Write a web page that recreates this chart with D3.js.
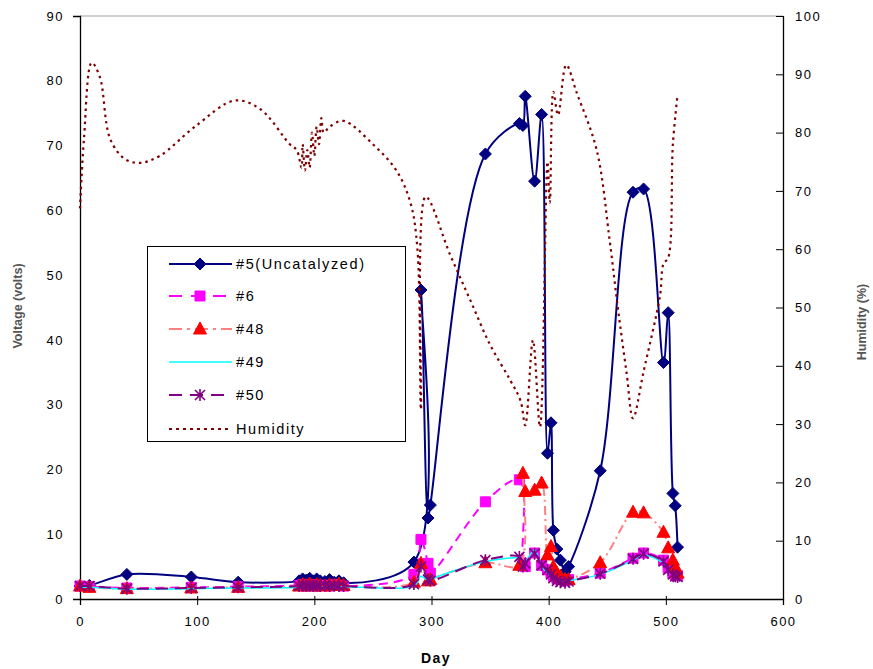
<!DOCTYPE html>
<html><head><meta charset="utf-8">
<script src="https://cdn.jsdelivr.net/npm/d3@7"></script>
<style>
html,body{margin:0;padding:0;background:#fff;}
svg{display:block;font-family:"Liberation Sans",Arial,sans-serif;}
</style></head>
<body><svg id="c" width="873" height="669"></svg>
<script>
const days = [0, 8, 40, 95, 135, 187, 190, 193, 196, 199, 202, 205, 209, 213, 217, 221, 225, 285, 291, 297, 299, 346, 375, 378, 380, 388, 394, 399, 402, 404, 407, 410, 414, 417, 444, 472, 481, 498, 502, 506, 508, 510];
const v5  = [2.0, 2.1, 3.8, 3.4, 2.6, 2.8, 3.1, 2.9, 3.2, 2.8, 3.1, 2.8, 2.7, 3.0, 2.6, 2.8, 2.5, 5.7, 47.7, 12.5, 14.5, 68.7, 73.4, 73.1, 77.6, 64.5, 74.8, 22.5, 27.2, 10.6, 7.7, 6.0, 4.2, 5.0, 19.8, 62.8, 63.3, 36.5, 44.2, 16.3, 14.4, 8.0];
const v6  = [2.0, 1.9, 1.7, 1.8, 1.9, 2.1, 2.2, 2.0, 2.1, 2.2, 2.0, 2.1, 2.1, 2.0, 2.2, 2.1, 2.0, 3.8, 9.2, 5.5, 4.0, 15.0, 18.4, 5.5, 5.0, 7.1, 5.2, 4.5, 4.0, 3.5, 3.2, 3.0, 2.8, 3.0, 4.0, 6.3, 7.1, 6.0, 4.8, 4.0, 3.8, 3.6];
const v48 = [2.0, 1.8, 1.6, 1.7, 1.8, 2.0, 2.2, 2.1, 2.3, 2.0, 2.2, 2.1, 2.0, 2.2, 2.1, 2.3, 2.1, 2.6, 5.5, 2.8, 3.0, 5.6, 5.2, 19.4, 16.6, 16.8, 17.9, 6.8, 8.1, 5.0, 4.0, 3.5, 3.0, 3.0, 5.6, 13.4, 13.3, 10.3, 7.9, 6.0, 5.0, 4.0];
const v49 = [1.8, 1.8, 1.5, 1.6, 1.7, 1.8, 1.9, 1.8, 1.9, 1.8, 1.9, 1.8, 1.9, 1.8, 1.9, 1.8, 1.9, 2.0, 3.5, 2.8, 3.0, 5.8, 6.3, 6.0, 5.8, 7.6, 5.0, 4.0, 3.5, 3.2, 3.0, 2.8, 2.6, 2.8, 3.8, 6.0, 6.8, 5.5, 4.5, 3.8, 3.6, 3.5];
const v50 = [2.0, 2.0, 1.6, 1.7, 1.8, 2.0, 2.1, 2.0, 2.1, 2.0, 2.1, 2.0, 2.1, 2.0, 2.1, 2.0, 2.0, 2.3, 5.0, 3.0, 2.8, 6.0, 6.5, 5.0, 5.5, 7.0, 5.2, 4.5, 3.8, 3.2, 2.8, 2.6, 2.5, 2.7, 3.9, 6.2, 7.0, 5.8, 4.5, 3.8, 3.5, 3.4];
const humDays  = [0, 3.4, 10, 17, 25.6, 38, 51, 68, 98, 132, 154, 179, 185, 189, 190, 192, 194, 196, 198, 200, 202, 204, 206, 208, 213, 225, 250, 270, 282, 288, 291, 295, 316, 333, 350, 367, 376, 380, 386.6, 392.6, 399, 401, 404, 408, 415, 424, 441, 452, 459, 466.5, 472, 481, 495, 498, 502, 506, 510];
const humidity = [67, 79, 92, 89.5, 79, 75.5, 74.8, 76, 81, 85.5, 84, 78, 77, 74, 78, 73.5, 77, 74, 80, 76, 81, 78, 82.5, 80, 81, 82, 78, 73.5, 68, 60, 32.5, 69, 59, 51.3, 43.6, 37.6, 34, 29.8, 44.4, 29.5, 75, 68, 87, 83, 91.6, 86.8, 77, 61.6, 50, 38.8, 31, 39, 52, 57.5, 58.5, 78, 86.5];
const xTicks = [0, 100, 200, 300, 400, 500, 600];
const yTicks = [0, 10, 20, 30, 40, 50, 60, 70, 80, 90];
const hTicks = [0, 10, 20, 30, 40, 50, 60, 70, 80, 90, 100];
const seriesNames = ["#5(Uncatalyzed)", "#6", "#48", "#49", "#50", "Humidity"];

const svg = d3.select("#c");
const L = 80, R = 783, T = 16, B = 599;
const x = d3.scaleLinear().domain([0, 600]).range([L, R]);
const y = d3.scaleLinear().domain([0, 90]).range([B, T]);
const yh = d3.scaleLinear().domain([0, 100]).range([B, T]);

const curve = d3.curveCatmullRom.alpha(0.5);

// top border
svg.append("line").attr("x1", L).attr("x2", R).attr("y1", T).attr("y2", T).attr("stroke", "#a0a0a0").attr("stroke-width", 1);

// axes
const tickFont = g => g.selectAll("text").attr("font-family", "Liberation Sans, Arial, sans-serif").attr("font-size", 13).attr("fill", "#000").attr("letter-spacing", "1.5px");
const gx = svg.append("g").attr("transform", `translate(0,${B})`).call(d3.axisBottom(x).tickValues(xTicks).tickSize(6).tickPadding(12).tickFormat(d3.format("d")));
gx.call(tickFont);
const gy = svg.append("g").attr("transform", `translate(${L},0)`).call(d3.axisLeft(y).tickValues(yTicks).tickSize(7).tickPadding(9).tickFormat(d3.format("d")));
gy.call(tickFont);
const gh = svg.append("g").attr("transform", `translate(${R},0)`).call(d3.axisRight(yh).tickValues(hTicks).tickSize(0).tickPadding(12).tickFormat(d3.format("d")));
gh.call(tickFont);
gh.selectAll(".tick").append("line").attr("x1", -7).attr("x2", 1).attr("stroke", "#000");
gx.selectAll(".tick line").attr("y1", -3);
gy.selectAll(".tick line").attr("x2", 1);
[gx, gy, gh].forEach(g => { g.select(".domain").attr("stroke", "#000").attr("stroke-width", 1.3); g.selectAll(".tick line").attr("stroke", "#000"); });

// axis titles
svg.append("text").attr("transform", `translate(22,306) rotate(-90)`).attr("text-anchor", "middle")
  .attr("font-size", 12.5).attr("font-weight", "bold").attr("fill", "#555").text("Voltage (volts)");
svg.append("text").attr("transform", `translate(866,322) rotate(-90)`).attr("text-anchor", "middle")
  .attr("font-size", 12.5).attr("font-weight", "bold").attr("fill", "#555").text("Humidity (%)");
svg.append("text").attr("x", 436).attr("y", 663).attr("text-anchor", "middle").attr("font-size", 14).attr("font-weight", "bold")
  .attr("letter-spacing", "1.5px").text("Day");

const plot = svg.append("g");

function markerPath(type, cx, cy) {
  if (type === "diamond") return `M${cx},${cy - 6}L${cx + 6},${cy}L${cx},${cy + 6}L${cx - 6},${cy}Z`;
  if (type === "square") return `M${cx - 5},${cy - 5}h10v10h-10Z`;
  if (type === "triangle") return `M${cx},${cy - 7}L${cx + 6.5},${cy + 5}L${cx - 6.5},${cy + 5}Z`;
  if (type === "star") return `M${cx - 5},${cy - 5}L${cx + 5},${cy + 5}M${cx + 5},${cy - 5}L${cx - 5},${cy + 5}M${cx},${cy - 6}L${cx},${cy + 6}`;
  return "";
}

const series = [
  { name: seriesNames[0], vals: v5, line: "#000080", dash: null, width: 2, marker: "diamond", mfill: "#000080", mstroke: "#000080" },
  { name: seriesNames[1], vals: v6, line: "#ff00ff", dash: "9,6", width: 2, marker: "square", mfill: "#ff00ff", mstroke: "#ff00ff" },
  { name: seriesNames[2], vals: v48, line: "#ff8080", dash: "9,4,2,4", width: 2, marker: "triangle", mfill: "#ff0000", mstroke: "#ff0000" },
  { name: seriesNames[3], vals: v49, line: "#00ffff", dash: null, width: 1.5, marker: null },
  { name: seriesNames[4], vals: v50, line: "#800080", dash: "12,7", width: 2, marker: "star", mfill: "none", mstroke: "#800080" }
];

series.forEach(s => {
  const pts = days.map((d, i) => [d, s.vals[i]]);
  plot.append("path").datum(pts)
    .attr("d", d3.line().x(d => x(d[0])).y(d => y(d[1])).curve(curve))
    .attr("fill", "none").attr("stroke", s.line).attr("stroke-width", s.width)
    .attr("stroke-dasharray", s.dash);
  if (s.marker) {
    plot.append("g").selectAll("path").data(pts).join("path")
      .attr("d", d => markerPath(s.marker, x(d[0]), y(d[1])))
      .attr("fill", s.mfill).attr("stroke", s.mstroke).attr("stroke-width", s.marker === "star" ? 1.6 : 1);
  }
});

// humidity (secondary axis)
const hpts = humDays.map((d, i) => [d, humidity[i]]);
plot.append("path").datum(hpts)
  .attr("d", d3.line().x(d => x(d[0])).y(d => yh(d[1])).curve(curve))
  .attr("fill", "none").attr("stroke", "#800000").attr("stroke-width", 2.2).attr("stroke-dasharray", "2.5,4");

// legend
const lg = svg.append("g");
lg.append("rect").attr("x", 147.5).attr("y", 246.5).attr("width", 258).attr("height", 195).attr("fill", "#fff").attr("stroke", "#000").attr("stroke-width", 1);
const legendRows = [264, 296, 329, 362, 395, 429];
const legendItems = [
  { line: "#000080", dash: null, w: 2, marker: "diamond", fill: "#000080", stroke: "#000080" },
  { line: "#ff00ff", dash: "13,9", w: 2, marker: "square", fill: "#ff00ff", stroke: "#ff00ff" },
  { line: "#ff8080", dash: "13,5,3,5", w: 2, marker: "triangle", fill: "#ff0000", stroke: "#ff0000" },
  { line: "#00ffff", dash: null, w: 1.5, marker: null },
  { line: "#800080", dash: "13,8", w: 2, marker: "star", fill: "none", stroke: "#800080" },
  { line: "#800000", dash: "3,4", w: 2.2, marker: null }
];
legendItems.forEach((it, i) => {
  const cy = legendRows[i];
  lg.append("line").attr("x1", 169).attr("x2", 232).attr("y1", cy).attr("y2", cy)
    .attr("stroke", it.line).attr("stroke-width", it.w).attr("stroke-dasharray", it.dash);
  if (it.marker) lg.append("path").attr("d", markerPath(it.marker, 200, cy)).attr("fill", it.fill).attr("stroke", it.stroke).attr("stroke-width", it.marker === "star" ? 1.6 : 1);
  lg.append("text").attr("x", 236).attr("y", cy + 5).attr("font-size", 14.5).attr("letter-spacing", "1.6px").attr("fill", "#000").text(seriesNames[i]);
});
</script></body></html>
